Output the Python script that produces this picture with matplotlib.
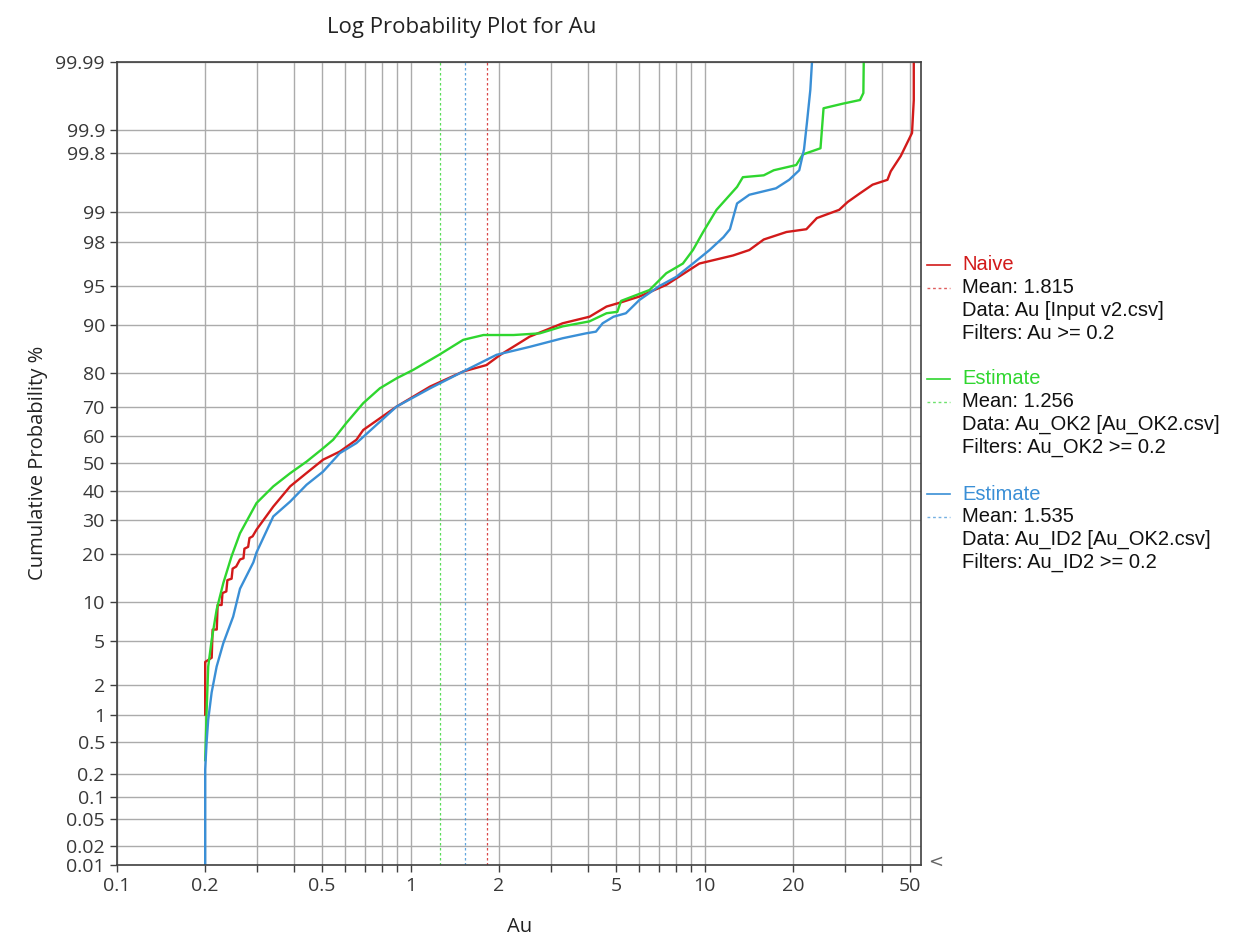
import math
import numpy as np
import matplotlib
matplotlib.use('Agg')
import matplotlib.pyplot as plt
from matplotlib.lines import Line2D
from matplotlib.ticker import FixedLocator, NullFormatter

# Data: x = Au value, p = cumulative probability %
naive_x = [0.2, 0.2, 0.2105, 0.212, 0.219, 0.2205, 0.2275, 0.229, 0.236, 0.238, 0.246, 0.248, 0.255,
           0.2627, 0.27, 0.272, 0.28, 0.283, 0.29, 0.299, 0.341, 0.389, 0.4426, 0.5036, 0.574, 0.654,
           0.69, 0.896, 1.165, 1.51, 1.81, 2.02, 2.54, 3.29, 4.06, 4.64, 5.17, 6.0, 7.41, 9.6, 12.5,
           14.2, 15.9, 19.0, 22.2, 24.1, 28.7, 30.7, 33.7, 37.3, 41.9, 43.0, 46.5, 50.8, 51.5, 51.5]
naive_p = [1.0, 3.3, 3.6, 6.2, 6.2, 9.5, 9.5, 11.5, 11.8, 14.0, 14.3, 16.5, 17.0,
           18.7, 19.0, 21.5, 22.0, 24.5, 25.0, 27.0, 34.5, 41.6, 46.5, 51.4, 54.4, 58.7,
           62.2, 70.1, 76.2, 80.3, 81.9, 84.3, 88.0, 90.3, 91.3, 92.7, 93.2, 93.9, 95.1, 96.8, 97.3,
           97.6, 98.1, 98.4, 98.5, 98.85, 99.06, 99.23, 99.38, 99.51, 99.57, 99.66, 99.78, 99.89, 99.962, 99.99]

ok2_x = [0.2, 0.2023, 0.2048, 0.2104, 0.2188, 0.2305, 0.2459, 0.2627, 0.299, 0.341, 0.389, 0.4426,
         0.5036, 0.545, 0.604, 0.69, 0.786, 0.896, 1.02, 1.25, 1.51, 1.77, 2.24, 2.75, 3.29, 4.06,
         4.64, 5.05, 5.2, 6.5, 7.41, 8.44, 9.13, 9.89, 10.98, 12.9, 13.5, 15.9, 17.2, 20.5, 21.6,
         24.8, 25.4, 29.5, 33.8, 34.7, 34.8]
ok2_p = [0.3, 1.1, 3.0, 5.1, 8.8, 13.4, 19.5, 25.9, 35.7, 41.6, 46.4, 50.7,
         55.6, 58.7, 64.6, 71.2, 75.7, 78.5, 80.7, 84.3, 87.4, 88.3, 88.3, 88.6, 89.8, 90.6,
         91.8, 92.0, 93.4, 94.6, 96.1, 96.8, 97.6, 98.4, 99.06, 99.48, 99.6, 99.62, 99.67, 99.715, 99.79,
         99.825, 99.95, 99.957, 99.962, 99.97, 99.99]

id2_x = [0.2, 0.2, 0.2023, 0.2048, 0.2104, 0.2188, 0.2305, 0.249, 0.2627, 0.2917, 0.299, 0.341,
         0.389, 0.4426, 0.5036, 0.574, 0.654, 0.896, 1.165, 1.51, 1.96, 2.54, 3.29, 3.95, 4.27,
         4.5, 4.9, 5.4, 6.0, 7.03, 8.0, 9.13, 10.4, 11.6, 12.2, 12.9, 14.2, 17.5, 19.4, 21.0,
         21.8, 22.3, 22.9, 23.2]
id2_p = [0.01, 0.23, 0.5, 0.88, 1.7, 3.0, 4.8, 7.8, 12.3, 18.0, 20.5, 31.2,
         36.2, 42.2, 47.0, 53.8, 57.5, 70.1, 75.7, 80.3, 84.3, 86.0, 87.7, 88.6, 88.9,
         90.3, 91.3, 91.8, 93.5, 95.0, 95.8, 96.8, 97.6, 98.2, 98.5, 99.2, 99.36, 99.46, 99.57, 99.67,
         99.82, 99.92, 99.973, 99.99]

means = [1.815, 1.256, 1.535]
colors = ['#d21a1a', '#2fd62f', '#3a8fd6']
names = ['Naive', 'Estimate', 'Estimate']
info = [['Mean: 1.815', 'Data: Au [Input v2.csv]', 'Filters: Au >= 0.2'],
        ['Mean: 1.256', 'Data: Au_OK2 [Au_OK2.csv]', 'Filters: Au_OK2 >= 0.2'],
        ['Mean: 1.535', 'Data: Au_ID2 [Au_OK2.csv]', 'Filters: Au_ID2 >= 0.2']]

y_ticks = [0.01, 0.02, 0.05, 0.1, 0.2, 0.5, 1, 2, 5, 10, 20, 30, 40, 50, 60, 70, 80, 90, 95, 98, 99,
           99.8, 99.9, 99.99]
x_major = [0.1, 0.2, 0.5, 1, 2, 5, 10, 20, 50]
x_minor = [0.3, 0.4, 0.6, 0.7, 0.8, 0.9, 3, 4, 6, 7, 8, 9, 30, 40]


# normal probability scale (percent <-> z)
def pct_to_z(p):
    q = np.clip(np.asarray(p, dtype=float) / 100.0, 1e-10, 1 - 1e-10)
    a = [-3.969683028665376e+01, 2.209460984245205e+02, -2.759285104469687e+02,
         1.383577518672690e+02, -3.066479806614716e+01, 2.506628277459239e+00]
    b = [-5.447609879822406e+01, 1.615858368580409e+02, -1.556989798598866e+02,
         6.680131188771972e+01, -1.328068155288572e+01]
    c = [-7.784894002430293e-03, -3.223964580411365e-01, -2.400758277161838e+00,
         -2.549732539343734e+00, 4.374664141464968e+00, 2.938163982698783e+00]
    d = [7.784695709041462e-03, 3.224671290700398e-01, 2.445134137142996e+00,
         3.754408661907416e+00]
    plow = 0.02425
    ql = np.sqrt(-2 * np.log(np.minimum(q, 1 - q)))
    tail = (((((c[0] * ql + c[1]) * ql + c[2]) * ql + c[3]) * ql + c[4]) * ql + c[5]) / \
           ((((d[0] * ql + d[1]) * ql + d[2]) * ql + d[3]) * ql + 1)
    r = q - 0.5
    s = r * r
    mid = (((((a[0] * s + a[1]) * s + a[2]) * s + a[3]) * s + a[4]) * s + a[5]) * r / \
          (((((b[0] * s + b[1]) * s + b[2]) * s + b[3]) * s + b[4]) * s + 1)
    return np.where(q < plow, tail, np.where(q > 1 - plow, -tail, mid))


_erf = np.vectorize(math.erf)


def z_to_pct(z):
    return 50.0 * (1 + _erf(np.asarray(z, dtype=float) / math.sqrt(2)))


W, H = 1239, 936
fig = plt.figure(figsize=(W / 100, H / 100), dpi=100)
ax = fig.add_axes([116.7 / W, 1 - 865 / H, (921 - 116.7) / W, (865 - 62) / H])

ax.set_xscale('log')
ax.set_yscale('function', functions=(pct_to_z, z_to_pct))
ax.set_xlim(0.1, 54.5)
ax.set_ylim(0.01, 99.99)

ax.xaxis.set_major_locator(FixedLocator(x_major))
ax.xaxis.set_minor_locator(FixedLocator(x_minor))
ax.xaxis.set_minor_formatter(NullFormatter())
ax.set_xticklabels([f'{v:g}' for v in x_major])
ax.yaxis.set_major_locator(FixedLocator(y_ticks))
ax.yaxis.set_minor_locator(FixedLocator([]))
ax.set_yticklabels([f'{v:g}' for v in y_ticks])

ax.grid(True, which='both', color='#ababab', lw=1.0)
ax.set_axisbelow(True)
ax.tick_params(which='both', direction='out', length=5, width=1, color='#404040',
               labelsize=14, labelcolor='#383838')
for lab in ax.get_xticklabels() + ax.get_yticklabels():
    lab.set_family('Open Sans')
for sp in ax.spines.values():
    sp.set_color('#404040')
    sp.set_linewidth(1.2)

# mean lines
for m, col in zip(means, colors):
    ax.axvline(m, color=col, lw=0.9, ls=(0, (2, 2)), alpha=0.8)

ax.plot(naive_x, naive_p, color=colors[0], lw=1.7)
ax.plot(ok2_x, ok2_p, color=colors[1], lw=1.7)
ax.plot(id2_x, id2_p, color=colors[2], lw=1.7)

fig.text(462 / W, 1 - 28 / H, 'Log Probability Plot for Au', ha='center', va='center',
         fontsize=16, family='Open Sans', color='#222222')
fig.text(38 / W, 1 - 463 / H, 'Cumulative Probability %', rotation=90, ha='center', va='center',
         fontsize=14.5, family='Open Sans', color='#222222')
fig.text(520 / W, 1 - 927 / H, 'Au', ha='center', va='center',
         fontsize=14.5, family='Open Sans', color='#222222')
fig.text(928 / W, 1 - 862 / H, '<', ha='left', va='center', fontsize=13, color='#666666')

# legend drawn on the right
block_top = [265, 379, 494]
step = 22.8
for k in range(3):
    y0 = block_top[k]
    fig.add_artist(Line2D([927 / W, 950 / W], [1 - y0 / H, 1 - y0 / H], color=colors[k], lw=1.2))
    fig.add_artist(Line2D([927 / W, 950 / W], [1 - (y0 + step) / H, 1 - (y0 + step) / H],
                          color=colors[k], lw=1.0, ls=(0, (2, 2)), alpha=0.7))
    fig.text(962 / W, 1 - y0 / H, names[k], color=colors[k], fontsize=14.5,
             family='Liberation Sans', va='center', ha='left')
    for j, line in enumerate(info[k]):
        fig.text(962 / W, 1 - (y0 + step * (j + 1)) / H, line, color='#111111', fontsize=14.5,
                 family='Liberation Sans', va='center', ha='left')

fig.savefig('out.png', dpi=100, facecolor='white')
